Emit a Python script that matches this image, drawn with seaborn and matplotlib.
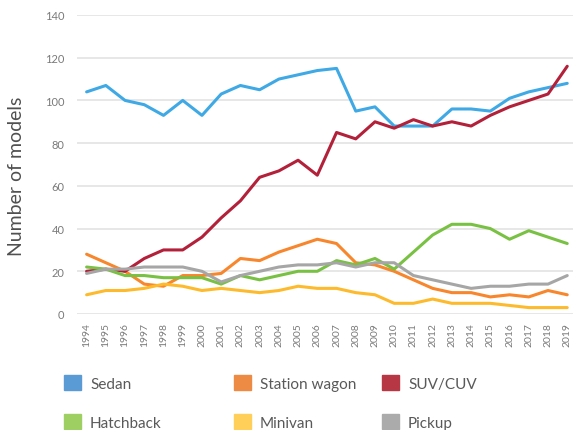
import pandas as pd
import matplotlib
matplotlib.use("Agg")
import matplotlib.pyplot as plt
import matplotlib.patches as mpatches
import seaborn as sns

# Datos
years = list(range(1994, 2020))
sedan = [104, 107, 100, 98, 93, 100, 93, 103, 107, 105, 110, 112, 114, 115,
         95, 97, 88, 88, 88, 96, 96, 95, 101, 104, 106, 108]
station_wagon = [28, 24, 20, 14, 13, 18, 18, 19, 26, 25, 29, 32, 35, 33,
                 24, 23, 20, 16, 12, 10, 10, 8, 9, 8, 11, 9]
suv_cuv = [20, 21, 20, 26, 30, 30, 36, 45, 53, 64, 67, 72, 65, 85,
           82, 90, 87, 91, 88, 90, 88, 93, 97, 100, 103, 116]
hatchback = [22, 21, 18, 18, 17, 17, 17, 14, 18, 16, 18, 20, 20, 25,
             23, 26, 21, 29, 37, 42, 42, 40, 35, 39, 36, 33]
minivan = [9, 11, 11, 12, 14, 13, 11, 12, 11, 10, 11, 13, 12, 12,
           10, 9, 5, 5, 7, 5, 5, 5, 4, 3, 3, 3]
pickup = [19, 21, 21, 22, 22, 22, 20, 15, 18, 20, 22, 23, 23, 24,
          22, 24, 24, 18, 16, 14, 12, 13, 13, 14, 14, 18]

series = {
    "Sedan": sedan,
    "Station wagon": station_wagon,
    "SUV/CUV": suv_cuv,
    "Hatchback": hatchback,
    "Minivan": minivan,
    "Pickup": pickup,
}
line_colors = {
    "Sedan": "#3FA9E6",
    "Station wagon": "#F8862C",
    "SUV/CUV": "#B3203A",
    "Hatchback": "#79C143",
    "Minivan": "#FDBA2C",
    "Pickup": "#A6A6A6",
}
legend_colors = {
    "Sedan": "#5B9BD5",
    "Station wagon": "#ED8A43",
    "SUV/CUV": "#B73744",
    "Hatchback": "#9ECF62",
    "Minivan": "#FFCF5A",
    "Pickup": "#ABABAB",
}

df = pd.DataFrame([
    {"year": y, "tipo": nome, "valor": v}
    for nome, vals in series.items()
    for y, v in zip(years, vals)
])

sns.set_theme(style="white")
plt.rcParams["font.family"] = ["Lato", "DejaVu Sans"]
text_gray = "#595959"

fig = plt.figure(figsize=(5.73, 4.31), dpi=100)
ax = fig.add_axes([77 / 573, 1 - 315 / 431, 496 / 573, (315 - 16) / 431])

sns.lineplot(data=df, x="year", y="valor", hue="tipo", palette=line_colors,
             linewidth=2.2, ax=ax, legend=False)

ax.set_ylim(0, 140)
ax.set_xlim(1993.5, 2019.3)
ax.set_yticks(range(0, 141, 20))
ax.set_xticks(years)
ax.set_xticklabels([str(y) for y in years], rotation=90, fontsize=7.5,
                   color="#7A7A7A")
ax.tick_params(axis="y", labelsize=8, labelcolor="#7A7A7A", length=0, pad=9)
ax.tick_params(axis="x", length=0, pad=6)
ax.yaxis.grid(True, color="#E3E3E3", linewidth=1.2)
ax.set_axisbelow(True)
for s in ax.spines.values():
    s.set_visible(False)
ax.set_xlabel("")
ax.set_ylabel("")
fig.text(17 / 573, 1 - 176 / 431, "Number of models", rotation=90,
         ha="center", va="center", fontsize=14, color="#505050")

# Legenda em três colunas
cols = [["Sedan", "Hatchback"], ["Station wagon", "Minivan"], ["SUV/CUV", "Pickup"]]
xs = [64, 234, 382]
for nomes, x in zip(cols, xs):
    handles = [mpatches.Patch(color=legend_colors[n], label=n) for n in nomes]
    fig.legend(handles=handles, loc="upper left",
               bbox_to_anchor=(x / 573, 1 - 376 / 431), frameon=False,
               fontsize=11, handlelength=1.1, handleheight=1.1,
               handletextpad=0.6, labelspacing=1.55, borderpad=0,
               borderaxespad=0, labelcolor=text_gray)

fig.savefig("out.png", dpi=100)
